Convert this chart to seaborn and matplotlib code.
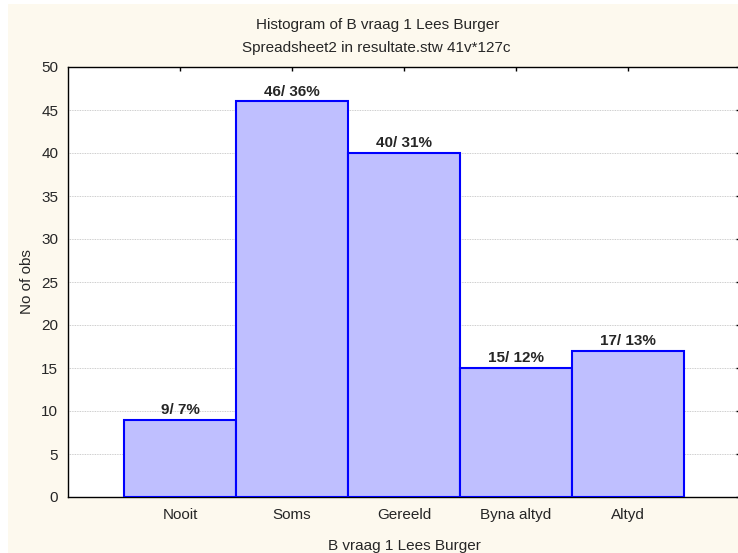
import matplotlib
matplotlib.use("Agg")
import matplotlib.pyplot as plt
import seaborn as sns
import pandas as pd
from matplotlib.patches import Rectangle

# data
categories = ["Nooit", "Soms", "Gereeld", "Byna altyd", "Altyd"]
counts = [9, 46, 40, 15, 17]
pcts = [7, 36, 31, 12, 13]
yticks = [0, 5, 10, 15, 20, 25, 30, 35, 40, 45, 50]

df = pd.DataFrame({"cat": categories, "n": counts})

sns.set_style("white")
plt.rcParams["font.family"] = ["Liberation Sans", "DejaVu Sans"]
plt.rcParams["font.size"] = 11

W, H = 738, 553
fig = plt.figure(figsize=(W / 100, H / 100), dpi=100, facecolor="white")
# cream panel behind everything
fig.patches.append(Rectangle((8 / W, 0), 1, 1 - 4 / H, transform=fig.transFigure,
                             facecolor="#fdf9ee", edgecolor="none", zorder=-10))

ax = fig.add_axes([68 / W, 1 - 497 / H, (740 - 68) / W, (497 - 67) / H])
ax.set_facecolor("white")

sns.barplot(data=df, x="cat", y="n", ax=ax, width=1.0, color="#bfbfff",
            saturation=1, edgecolor="#0000ff", linewidth=1.5, zorder=3)

# count / percent labels on top
for i, (n, p) in enumerate(zip(counts, pcts)):
    ax.annotate(f"{n}/ {p}%", (i, n), xytext=(0, 2), textcoords="offset points",
                ha="center", va="bottom", fontweight="bold", fontsize=11)

ax.set_xlim(-1, 5)
ax.set_ylim(0, 50)
ax.set_yticks(yticks)
ax.set_yticklabels([str(t) for t in yticks])
ax.yaxis.grid(True, linestyle=(0, (1, 1)), color="#bdbdbd", linewidth=0.6)
ax.set_axisbelow(True)

ax.tick_params(axis="both", direction="in", length=3, width=1, color="black",
               top=True, right=True, labelsize=11)
ax.tick_params(axis="x", pad=8)
ax.tick_params(axis="y", pad=7)
for s in ax.spines.values():
    s.set_visible(True)
    s.set_color("black")
    s.set_linewidth(1.0)

ax.set_xlabel("B vraag 1 Lees Burger", fontsize=11, labelpad=12)
ax.set_ylabel("No of obs", fontsize=11, labelpad=5)

fig.text(378 / W, 1 - 25 / H, "Histogram of B vraag 1 Lees Burger",
         ha="center", va="center", fontsize=11)
fig.text(376 / W, 1 - 48 / H, "Spreadsheet2 in resultate.stw 41v*127c",
         ha="center", va="center", fontsize=11)

fig.savefig("out.png", dpi=100, facecolor=fig.get_facecolor())
